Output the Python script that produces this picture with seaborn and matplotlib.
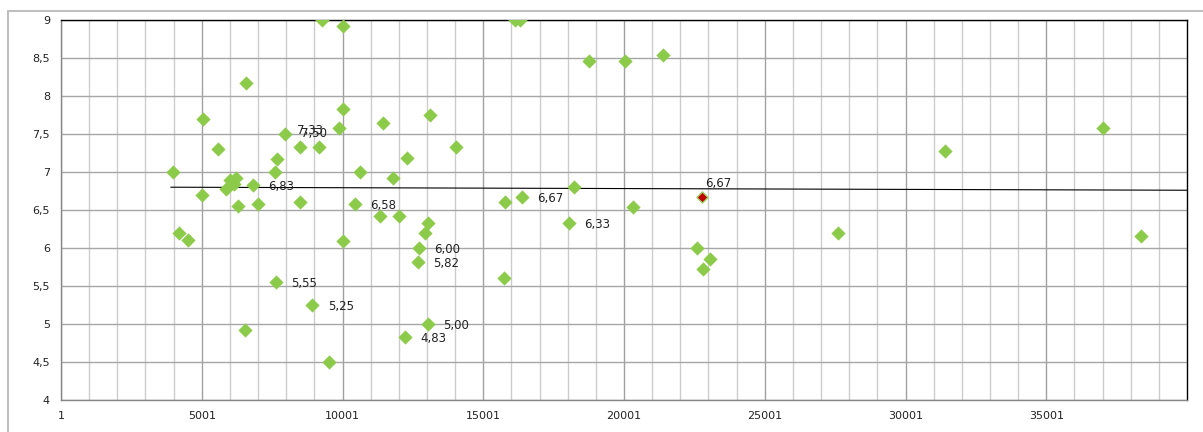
import numpy as np
import matplotlib
matplotlib.use('Agg')
import matplotlib.pyplot as plt
from matplotlib.lines import Line2D
from matplotlib.ticker import FuncFormatter
import seaborn as sns

# ---- data ----
x_vals = [3970, 4190, 4500, 5020, 5050, 5570, 5860, 6000, 6160, 6220,
          6290, 6560, 6550, 6820, 7010, 7620, 7680, 7650, 7970, 8480,
          8480, 8930, 9180, 9260, 9520, 9860, 10010, 10010, 10010, 10450,
          10630, 11340, 11440, 11790, 12020, 12230, 12290, 12680, 12730, 12940,
          13030, 13030, 13110, 14030, 15730, 15780, 16130, 16290, 16370, 18030,
          18230, 18740, 20020, 20320, 21390, 22610, 22790, 23060, 27600, 31390,
          37000, 38370]
y_vals = [7.00, 6.20, 6.11, 6.70, 7.70, 7.30, 6.78, 6.89, 6.84, 6.92,
          6.55, 8.17, 4.92, 6.83, 6.58, 7.00, 7.17, 5.55, 7.50, 7.33,
          6.60, 5.25, 7.33, 9.00, 4.50, 7.58, 8.92, 7.83, 6.09, 6.58,
          7.00, 6.42, 7.64, 6.92, 6.42, 4.83, 7.18, 5.82, 6.00, 6.20,
          6.33, 5.00, 7.75, 7.33, 5.60, 6.60, 9.00, 9.00, 6.67, 6.33,
          6.80, 8.46, 8.46, 6.54, 8.54, 6.00, 5.73, 5.86, 6.20, 7.28,
          7.58, 6.16]

# highlighted point
red_x = [22770]
red_y = [6.67]

# trend line end points
trend_x = [3900, 40001]
trend_y = [6.80, 6.76]

# labelled points: index into x_vals/y_vals -> text
labels = {13: '6,83', 17: '5,55', 18: '7,50', 19: '7,33', 21: '5,25',
          29: '6,58', 35: '4,83', 37: '5,82', 38: '6,00', 41: '5,00',
          48: '6,67', 49: '6,33'}
red_label = '6,67'

x_major = [1, 5001, 10001, 15001, 20001, 25001, 30001, 35001]
y_major = [4, 4.5, 5, 5.5, 6, 6.5, 7, 7.5, 8, 8.5, 9]

# ---- style ----
sns.set_style('white')
plt.rcParams['font.family'] = ['DejaVu Sans']
plt.rcParams['font.size'] = 8

fig = plt.figure(figsize=(12.03, 4.32), dpi=100)
ax = fig.add_axes([61 / 1203, 1 - 400 / 432, (1187 - 61) / 1203, (400 - 20) / 432])

green = '#8CCB4A'

sns.lineplot(x=trend_x, y=trend_y, color='black', linewidth=0.8, ax=ax, zorder=2)
sns.scatterplot(x=x_vals, y=y_vals, marker='D', s=48, color=green,
                edgecolor=green, linewidth=0.3, ax=ax, zorder=3)
sns.scatterplot(x=red_x, y=red_y, marker='D', s=32, color='#C00000',
                edgecolor='#9BD060', linewidth=1.0, ax=ax, zorder=4)

# data labels (offsets in points)
offsets = {19: (-2, 12), 18: (11, 0)}
for i, txt in labels.items():
    dx, dy = offsets.get(i, (11, -1))
    ax.annotate(txt, (x_vals[i], y_vals[i]), xytext=(dx, dy),
                textcoords='offset points', ha='left', va='center',
                fontsize=8.5, color='#222222', zorder=5)
ax.annotate(red_label, (red_x[0], red_y[0]), xytext=(2, 10),
            textcoords='offset points', ha='left', va='center',
            fontsize=8.5, color='#222222', zorder=5)

# axes
ax.set_xlim(1, 40001)
ax.set_ylim(4, 9)
ax.set_xticks(x_major)
ax.set_xticks(np.arange(1001, 40001, 1000), minor=True)
ax.set_yticks(y_major)
ax.yaxis.set_major_formatter(FuncFormatter(lambda v, p: f'{v:g}'.replace('.', ',')))
ax.set_axisbelow(True)
ax.grid(which='minor', axis='x', color='#cccccc', linewidth=1.0)
ax.grid(which='major', axis='x', color='#a0a0a0', linewidth=1.0)
ax.grid(which='major', axis='y', color='#a6a6a6', linewidth=1.0)
ax.tick_params(axis='both', which='major', length=4, color='#868686',
               labelsize=8, labelcolor='#222222', pad=4)
ax.tick_params(axis='x', which='minor', length=0)
ax.set_xlabel('')
ax.set_ylabel('')

for side in ['left', 'bottom']:
    ax.spines[side].set_color('#868686')
    ax.spines[side].set_linewidth(1.0)
for side in ['top', 'right']:
    ax.spines[side].set_color('black')
    ax.spines[side].set_linewidth(1.0)

# outer chart frame
fig.add_artist(Line2D([8 / 1203, 8 / 1203], [0, 1 - 11 / 432], color='#bfbfbf', linewidth=1.5))
fig.add_artist(Line2D([8 / 1203, 1], [1 - 11 / 432, 1 - 11 / 432], color='#bfbfbf', linewidth=1.5))

fig.savefig('out.png', dpi=100)
